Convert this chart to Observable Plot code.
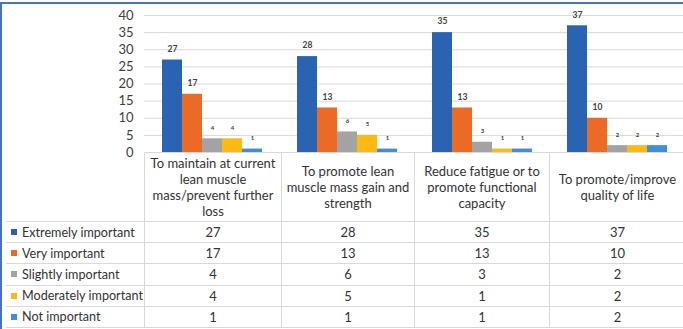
<!DOCTYPE html>
<html>
<head>
<meta charset="utf-8">
<script src="https://cdn.jsdelivr.net/npm/d3@7"></script>
<script src="https://cdn.jsdelivr.net/npm/@observablehq/plot@0.6"></script>
<style>
  html, body { margin: 0; padding: 0; background: #fff; }
  body { width: 683px; height: 329px; position: relative; overflow: hidden; font-family: Lato, "Open Sans", sans-serif; }
  #chart { position: absolute; left: 0; top: 0; }
  .frame-top { position: absolute; left: 0; top: 2px; width: 683px; height: 2px; background: #4472c4; }
  .frame-left { position: absolute; left: 0; top: 2px; width: 2px; height: 327px; background: #4472c4; }
  #table {
    position: absolute; left: 6px; top: 152px;
    display: grid;
    grid-template-columns: 139px 137px 133px 135px 136px;
    grid-template-rows: 70px repeat(5, 21.2px);
    font-size: 13px; color: #333;
  }
  .cell {
    box-sizing: border-box;
    border-right: 1px solid #d9d9d9; border-bottom: 1px solid #d9d9d9;
    display: flex; align-items: center; justify-content: center;
  }
  .head { border-top: 1px solid #d9d9d9; white-space: pre-line; text-align: center; line-height: 16px; }
  .label { justify-content: flex-start; padding-left: 5px; white-space: nowrap; font-size: 12.6px; }
  .swatch { width: 6px; height: 6px; margin-right: 5px; flex: none; }
</style>
</head>
<body>
<div id="chart"></div>
<div id="table"></div>
<div class="frame-top"></div>
<div class="frame-left"></div>
<script>
// Goals of the intervention (header lines are split where they wrap)
const categories = [
  "To maintain at current\nlean muscle\nmass/prevent further\nloss",
  "To promote lean\nmuscle mass gain and\nstrength",
  "Reduce fatigue or to\npromote functional\ncapacity",
  "To promote/improve\nquality of life"
];
const series = ["Extremely important", "Very important", "Slightly important", "Moderately important", "Not important"];
const extremely = [27, 28, 35, 37];
const very = [17, 13, 13, 10];
const slightly = [4, 6, 3, 2];
const moderately = [4, 5, 1, 2];
const notImportant = [1, 1, 1, 2];
const seriesColors = ["#2a63b1", "#eb6a25", "#a3a3a3", "#fdb913", "#3d8fd8"];
const yTicks = [0, 5, 10, 15, 20, 25, 30, 35, 40];

const valuesBySeries = [extremely, very, slightly, moderately, notImportant];
const rows = [];
series.forEach((s, i) => categories.forEach((c, j) => rows.push({category: c, series: s, value: valuesBySeries[i][j]})));

// The SVG runs a little below the baseline so the "0" tick label fits
const chart = Plot.plot({
  width: 683,
  height: 162,
  marginLeft: 144,
  marginRight: -1,
  marginTop: 15,
  marginBottom: 10,
  style: {fontFamily: "Lato, sans-serif", color: "#404040", background: "transparent", overflow: "visible"},
  fx: {domain: categories, padding: 0, axis: null},
  x: {domain: series, paddingInner: 0, paddingOuter: 0.78, axis: null},
  y: {domain: [0, 40], axis: null, label: null},
  color: {domain: series, range: seriesColors},
  marks: [
    Plot.gridY(yTicks.filter(d => d > 0), {stroke: "#d9d9d9", strokeOpacity: 1}),
    Plot.axisY(yTicks, {tickSize: 0, tickPadding: 11, fontSize: 13, fill: "#404040", label: null}),
    Plot.barY(rows, {fx: "category", x: "series", y: "value", fill: "series"}),
    Plot.text(rows.filter(d => d.value >= 10), {
      fx: "category", x: "series", y: "value", text: d => String(d.value),
      dy: -11, fontSize: 8.5, fontWeight: "bold", fill: "#404040"
    }),
    Plot.text(rows.filter(d => d.value < 10), {
      fx: "category", x: "series", y: "value", text: d => String(d.value),
      dy: -11, fontSize: 6, fontWeight: "bold", fill: "#404040"
    })
  ]
});
document.getElementById("chart").appendChild(chart);

// Data table under the bars
const table = document.getElementById("table");
function cell(cls, text) {
  const el = document.createElement("div");
  el.className = "cell " + cls;
  if (text != null) el.textContent = text;
  table.appendChild(el);
  return el;
}
cell("corner");
categories.forEach(c => cell("head", c));
series.forEach((s, i) => {
  const lab = cell("label");
  const sw = document.createElement("span");
  sw.className = "swatch";
  sw.style.background = seriesColors[i];
  lab.appendChild(sw);
  lab.appendChild(document.createTextNode(s));
  valuesBySeries[i].forEach(v => cell("num", String(v)));
});
</script>
</body>
</html>
